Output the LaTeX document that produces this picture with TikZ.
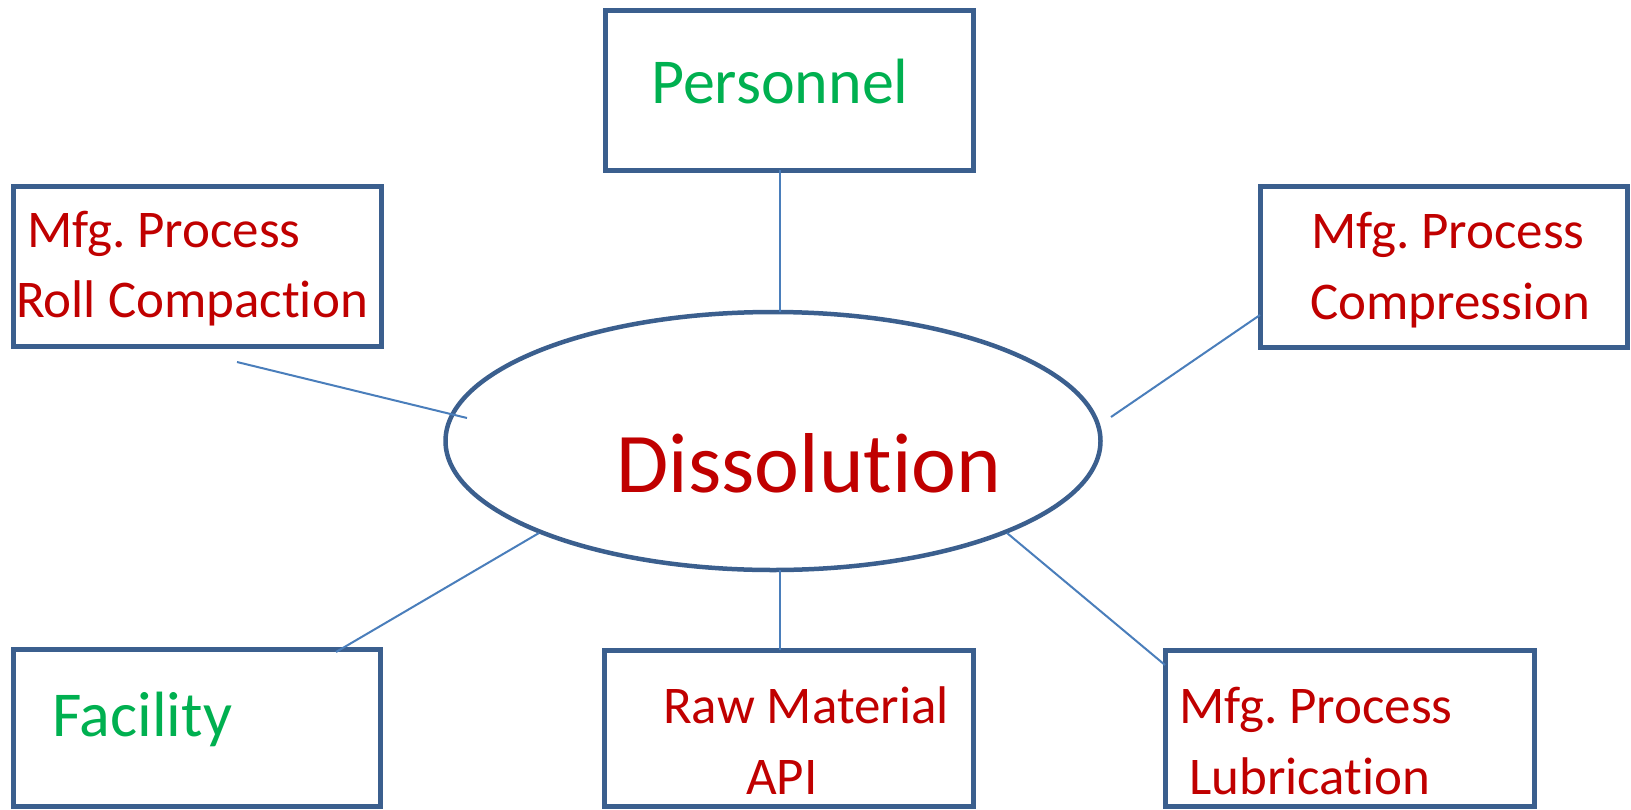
\documentclass[tikz,border=0pt]{standalone}
\usepackage{fontspec}
\setmainfont[Ligatures=NoCommon]{Carlito}
\usetikzlibrary{shapes.geometric}
\definecolor{boxline}{HTML}{3B5F8E}
\definecolor{linkline}{HTML}{4A7EBB}
\definecolor{txtred}{HTML}{C00000}
\definecolor{txtgreen}{HTML}{00B050}
\frenchspacing
\begin{document}
\begin{tikzpicture}[x=1pt,y=-1pt,
  box/.style={draw=boxline, line width=5pt, rectangle, inner sep=0pt, outer sep=0pt},
  link/.style={draw=linkline, line width=2pt},
  lbl/.style={anchor=base west, inner sep=0pt, font=\fontsize{53}{60}\selectfont, text=txtred},
  glbl/.style={lbl, font=\fontsize{64}{70}\selectfont, text=txtgreen}]
\useasboundingbox (0,0) rectangle (1631,809);

% connector end points
\coordinate (ax) at (780,0);
\coordinate (rc1) at (237,362);
\coordinate (rc2) at (467,418);
\coordinate (cp1) at (1111,417);
\coordinate (cp2) at (1260,315);
\coordinate (fa1) at (336,652);
\coordinate (fa2) at (539,533);
\coordinate (lb1) at (1007,533);
\coordinate (lb2) at (1165,665);

% boxes
\node[box, minimum width=368pt, minimum height=160pt] (pers) at (789,90) {};
\node[box, minimum width=368pt, minimum height=160pt] (roll) at (197,266) {};
\node[box, minimum width=367pt, minimum height=161pt] (comp) at (1443.5,266.5) {};
\node[box, minimum width=367pt, minimum height=157pt] (fac) at (197,727.5) {};
\node[box, minimum width=369pt, minimum height=156pt] (raw) at (788.5,728) {};
\node[box, minimum width=369pt, minimum height=156pt] (lub) at (1349.5,728) {};

% central ellipse
\node[draw=boxline, line width=4.5pt, ellipse, inner sep=0pt, outer sep=0pt,
      minimum width=655pt, minimum height=258pt] (diss) at (773,441) {};

% connectors
\draw[link] (pers.south -| ax) -- (diss.north -| ax);
\draw[link] (diss.south -| ax) -- (raw.north -| ax);
\draw[link] (rc1) -- (rc2);
\draw[link] (cp1) -- (cp2);
\draw[link] (fa1) -- (fa2);
\draw[link] (lb1) -- (lb2);

% labels
\node[glbl] (tpers) at (651,103) {Personnel};
\node[lbl] (troll1) at (27,247) {Mfg. Process};
\node[lbl] (troll2) at (16,317) {Roll Compaction};
\node[lbl] (tcomp1) at (1311,248) {Mfg. Process};
\node[lbl] (tcomp2) at (1310,319) {Compression};
\node[glbl] (tfac) at (52,736) {Facility};
\node[lbl] (traw1) at (663,723) {Raw Material};
\node[lbl] (traw2) at (746,794) {API};
\node[lbl] (tlub1) at (1179,723) {Mfg. Process};
\node[lbl] (tlub2) at (1189,794) {Lubrication};
\node[anchor=base, inner sep=0pt, font=\fontsize{85}{90}\selectfont, text=txtred] (tdiss) at (809,492) {Dissolution};
\end{tikzpicture}
\end{document}
